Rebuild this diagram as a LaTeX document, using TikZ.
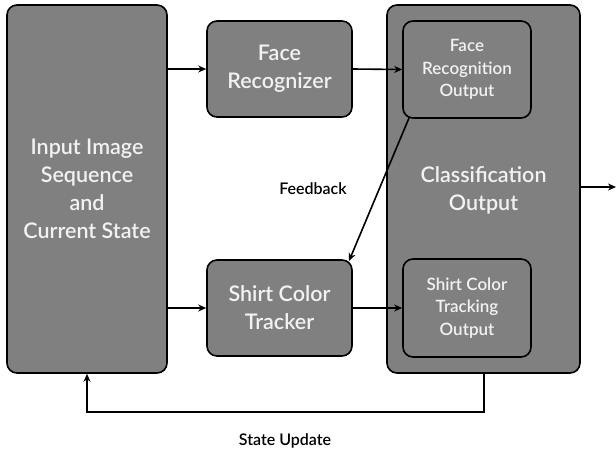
\documentclass[tikz,border=0pt]{standalone}
\usepackage{fontspec}
\setmainfont{Lato}[BoldFont={Lato Semibold}]
\usetikzlibrary{arrows.meta}
\definecolor{boxgray}{RGB}{128,128,128}
\definecolor{boxtext}{RGB}{242,242,242}
\begin{document}
\begin{tikzpicture}[x=1pt,y=-1pt,
  blk/.style={draw=black, line width=1.6pt, fill=boxgray, rounded corners=10pt,
    text=boxtext, align=center, inner sep=0pt,
    font=\fontsize{21.5}{28}\selectfont\bfseries},
  sub/.style={blk, font=\fontsize{17}{22.5}\selectfont\bfseries},
  conn/.style={line width=1.6pt, -{Stealth[length=8pt,width=7pt]}},
  lbl/.style={font=\fontsize{16}{19}\selectfont\bfseries, text=black}]
\useasboundingbox (0,0) rectangle (616,455);
\node[blk, minimum width=160pt, minimum height=368pt] (inp) at (87,189)
  {Input Image\\Sequence\\and\\Current State};
\node[blk, minimum width=145pt, minimum height=96pt] (fr) at (279.5,69)
  {Face\\Recognizer};
\node[blk, minimum width=145pt, minimum height=96pt] (sct) at (279.5,308)
  {Shirt Color\\Tracker};
\node[blk, minimum width=193pt, minimum height=368pt] (cls) at (483.5,189) {};
\node[blk, anchor=center] at (483.5,190) [draw=none, fill=none] (clstext)
  {Classification\\Output};
\node[sub, minimum width=128pt, minimum height=97pt] (fro) at (467,69.5)
  {Face\\Recognition\\Output};
\node[sub, minimum width=128pt, minimum height=98pt] (scto) at (467,308)
  {Shirt Color\\Tracking\\Output};
\coordinate (out) at (616,187);
\coordinate (fbstart) at (409,118);
\coordinate (fbend) at (349,261);
\coordinate (low1) at (484,412);
\coordinate (low2) at (87,412);
\node[lbl] (fbl) at (313,189) {Feedback};
\node[lbl] (sul) at (285,441) {State Update};
\draw[conn] (inp.east |- fr) -- (fr.west);
\draw[conn] (fr.east) -- (fro.west);
\draw[conn] (inp.east |- sct) -- (sct.west);
\draw[conn] (sct.east) -- (scto.west);
\draw[conn] (cls.east |- out) -- (out);
\draw[conn] (fbstart) -- (fbend);
\draw[conn] (cls.south -| low1) -- (low1) -- (low2) -- (inp.south -| low2);
\end{tikzpicture}
\end{document}
